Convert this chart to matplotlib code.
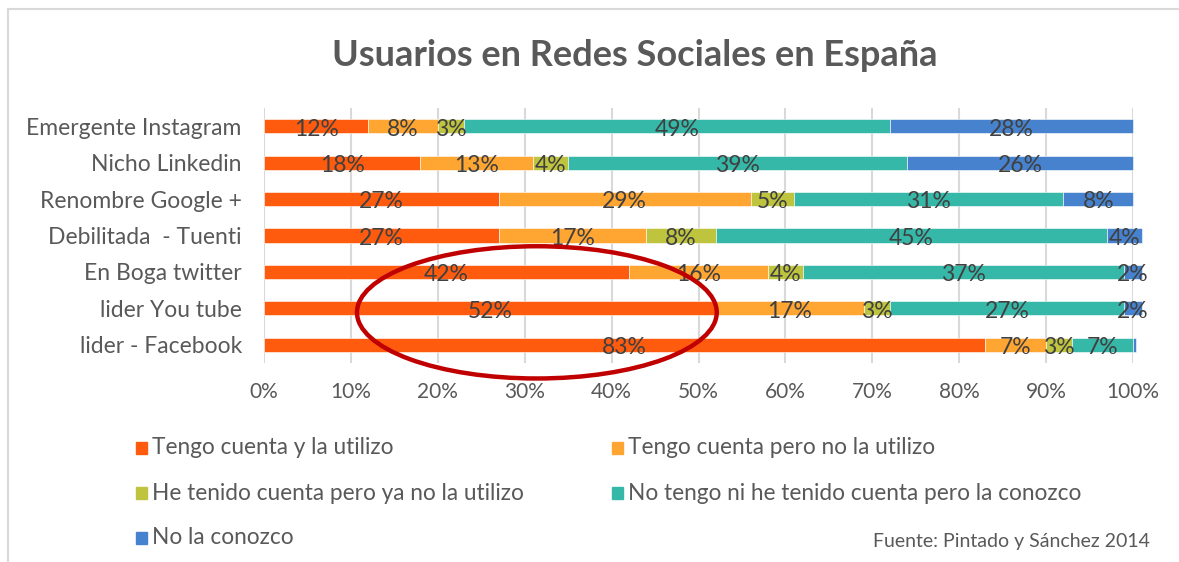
import matplotlib
matplotlib.use("Agg")
import matplotlib.pyplot as plt
from matplotlib.patches import Ellipse, Rectangle
import numpy as np

plt.rcParams["font.family"] = ["Lato", "DejaVu Sans"]

# Redes, de arriba abajo
categories = ["Emergente Instagram", "Nicho Linkedin", "Renombre Google +",
              "Debilitada  - Tuenti", "En Boga twitter", "lider You tube",
              "lider - Facebook"]
series = ["Tengo cuenta y la utilizo", "Tengo cuenta pero no la utilizo",
          "He tenido cuenta pero ya no la utilizo",
          "No tengo ni he tenido cuenta pero la conozco", "No la conozco"]

usa = [12, 18, 27, 27, 42, 52, 83]
no_usa = [8, 13, 29, 17, 16, 17, 7]
ya_no = [3, 4, 5, 8, 4, 3, 3]
conoce = [49, 39, 31, 45, 37, 27, 7]
no_conoce = [28, 26, 8, 4, 2, 2, 0.4]
# etiquetas que muestra el grafico (vacio = sin etiqueta)
label_no_conoce = ["28%", "26%", "8%", "4%", "2%", "2%", ""]

colors = ["#FE5B0E", "#FFA531", "#BEC43E", "#36B8A9", "#4682CE"]
TXT = "#404040"
GRAY = "#595959"
W, H = 1179, 562

fig = plt.figure(figsize=(W / 100, H / 100), dpi=100)
ax = fig.add_axes([264 / W, 1 - 363 / H, (1133 - 264) / W, 255 / H])

values = [usa, no_usa, ya_no, conoce, no_conoce]
y = np.arange(len(categories))
left = np.zeros(len(categories))
for i, (vals, col) in enumerate(zip(values, colors)):
    vals = np.array(vals, dtype=float)
    bars = ax.barh(y, vals, left=left, height=0.39, color=col, zorder=2,
                   edgecolor="white", linewidth=0.4, clip_on=False)
    for j, (b, v) in enumerate(zip(bars, vals)):
        lab = label_no_conoce[j] if i == 4 else f"{v:.0f}%"
        if lab:
            ax.text(left[j] + v / 2, y[j] + 0.08, lab, ha="center", va="center",
                    fontsize=16.5, color=TXT, zorder=4)
    left += vals

ax.set_xlim(0, 100)
ax.set_ylim(len(categories) - 0.5, -0.5)
ax.set_xticks(np.arange(0, 101, 10))
ax.set_xticklabels([f"{t}%" for t in range(0, 101, 10)])
ax.set_yticks(y)
ax.set_yticklabels(categories)
ax.tick_params(length=0, colors=GRAY)
ax.tick_params(axis="x", pad=14, labelsize=15)
ax.tick_params(axis="y", pad=16, labelsize=16.5)
ax.grid(axis="x", color="#D9D9D9", lw=1.5, zorder=0)
for s in ax.spines.values():
    s.set_visible(False)

# elipse roja de resalte
ax.add_patch(Ellipse((31.4, 5.11), 41.4, 3.63, fill=False, edgecolor="#C00000",
                     lw=3.2, zorder=5, clip_on=False))

fig.text(635 / W, 1 - 56 / H, "Usuarios en Redes Sociales en España",
         ha="center", va="center", fontsize=26, fontweight="bold", color=GRAY)

# leyenda manual, dos columnas por filas
leg_x = [136, 612]
leg_y = [448, 493, 538]
for k, (name, col) in enumerate(zip(series, colors)):
    px, py = leg_x[k % 2], leg_y[k // 2]
    fig.patches.append(Rectangle((px / W, 1 - (py + 6) / H), 11 / W, 12 / H,
                                 transform=fig.transFigure, color=col))
    fig.text((px + 16) / W, 1 - py / H, name, ha="left", va="center",
             fontsize=16.3, color=GRAY)

fig.text(1150 / W, 1 - 541 / H, "Fuente: Pintado y Sánchez 2014",
         ha="right", va="center", fontsize=14, color=GRAY)

# marco gris del grafico
fig.patches.append(Rectangle((8 / W, -0.1), 1.2, 1 - 9 / H + 0.1, transform=fig.transFigure,
                             fill=False, edgecolor="#D9D9D9", lw=1.5))

fig.savefig("out.png", dpi=100)
